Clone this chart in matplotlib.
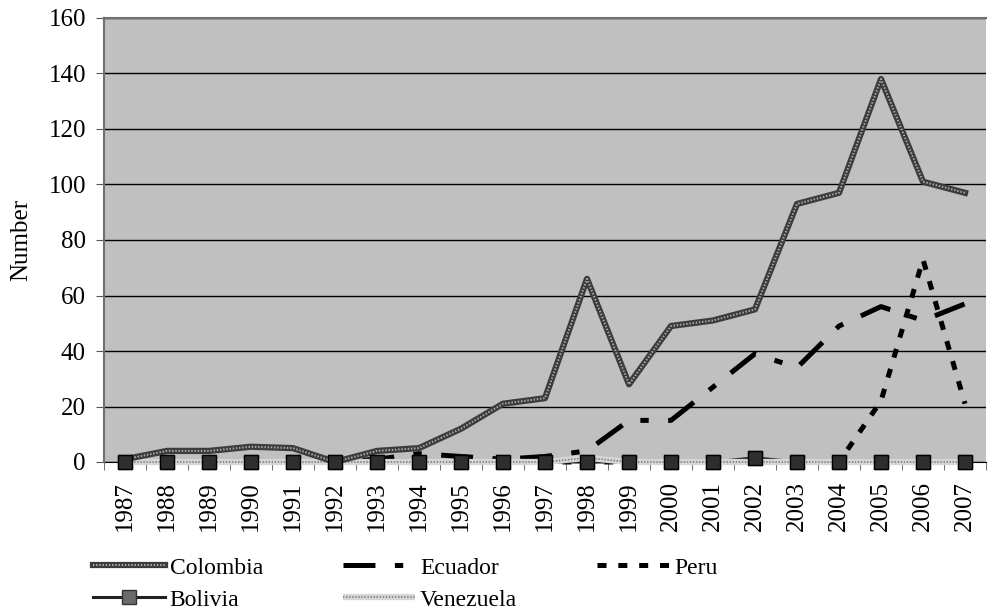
import numpy as np
import matplotlib as mpl
mpl.use("Agg")
from matplotlib import pyplot as plt
from matplotlib.legend_handler import HandlerTuple

plt.rcParams['font.family'] = ['Liberation Serif', 'DejaVu Serif']
plt.rcParams['lines.scale_dashes'] = False

# Daten
jahre = [str(j) for j in range(1987, 2008)]
colombia = [1, 4, 4, 5.5, 5, 0, 4, 5, 12, 21, 23, 66, 28, 49, 51, 55, 93, 97, 138, 101, 97]
ecuador = [0, 0, 0, 0, 0, 0, 1, 3, 2, 1, 2, 4, 15, 15, 27, 39, 34, 49, 56, 51, 57]
peru = [0, 0, 0, 0, 0, 0, 0, 0, 0, 0, 0, 0, 0, 0, 0, 0, 0, 0, 22, 73, 21]
bolivia = [0, 0, 0, 0, 0, 0, 0, 0, 0, 0, 0, 0, 0, 0, 0, 1.5, 0, 0, 0, 0, 0]
venezuela = [0, 0, 0, 0, 0, 0, 0, 0, 0, 0, 0, 1.5, 0, 0, 0, 0, 0, 0, 0, 0, 0]

x = np.arange(len(jahre))

fig = plt.figure(figsize=(9.95, 6.15), dpi=100)
ax = fig.add_axes([104/995, 1-462/615, (986-104)/995, (462-18)/615])
ax.set_facecolor('#c0c0c0')

# Ecuador
ecu, = ax.plot(x, ecuador, color='black', lw=3.6, dashes=(23, 14, 6, 14),
               dash_capstyle='butt', zorder=2, clip_on=False)

# Peru
per, = ax.plot(x, peru, color='black', lw=3.6, dashes=(6.5, 8.5),
               dash_capstyle='butt', zorder=2, clip_on=False)

# Bolivia Linie (unten)
bol_line, = ax.plot(x, bolivia, color='#222222', lw=2.2, marker='s', markersize=10,
                    markerfacecolor='#6a6a6a', markeredgecolor='#333333', zorder=2,
                    clip_on=False)

# Venezuela
ven1, = ax.plot(x, venezuela, color='#d6d6d6', lw=4.5, zorder=3,
                solid_capstyle='butt', clip_on=False)
ven2, = ax.plot(x, venezuela, color='#7c7c7c', lw=1.2, dashes=(1, 1.2), zorder=3,
                clip_on=False)

# Bolivia Marker oben drauf
ax.plot(x, bolivia, ls='none', marker='s', markersize=10,
        markerfacecolor='#2e2e2e', markeredgecolor='black', zorder=6, clip_on=False)

# Colombia
col1, = ax.plot(x, colombia, color='#3c3c3c', lw=4.5, zorder=5, clip_on=False)
col2, = ax.plot(x, colombia, color='#b0b0b0', lw=1.4, dashes=(1, 1.3), zorder=5,
                clip_on=False)

ax.set_ylim(0, 160)
ax.set_xlim(-0.5, len(jahre) - 0.5)
ax.set_yticks(np.arange(0, 161, 20))
ax.yaxis.grid(True, color='black', lw=1)
ax.set_axisbelow(True)
ax.tick_params(axis='y', labelsize=18, direction='out', length=6, color='#555555', pad=7)

ax.set_xticks(x)
ax.set_xticklabels(jahre, rotation=90, fontsize=18)
ax.set_xticks(np.arange(-0.5, len(jahre), 1), minor=True)
ax.tick_params(axis='x', which='major', length=0, pad=14)
ax.tick_params(axis='x', which='minor', length=6, direction='out', color='#555555')

ax.spines['right'].set_visible(False)
ax.spines['left'].set_color('#707070')
ax.spines['left'].set_linewidth(1.5)
ax.spines['top'].set_color('#707070')
ax.spines['top'].set_linewidth(1.5)
ax.spines['bottom'].set_color('black')
ax.spines['bottom'].set_zorder(1)

ax.set_ylabel('Number', fontsize=18, labelpad=12)

fig.legend([(col1, col2), bol_line, ecu, (ven1, ven2), per],
           ['Colombia', 'Bolivia', 'Ecuador', 'Venezuela', 'Peru'],
           handler_map={tuple: HandlerTuple(ndivide=1)},
           ncol=3, loc='upper left', bbox_to_anchor=(93/995, 1-557/615),
           frameon=False, fontsize=17, handlelength=3.05, handletextpad=0.2,
           columnspacing=3.4, labelspacing=0.45, borderaxespad=0, borderpad=0)

plt.savefig('out.png', dpi=100)
